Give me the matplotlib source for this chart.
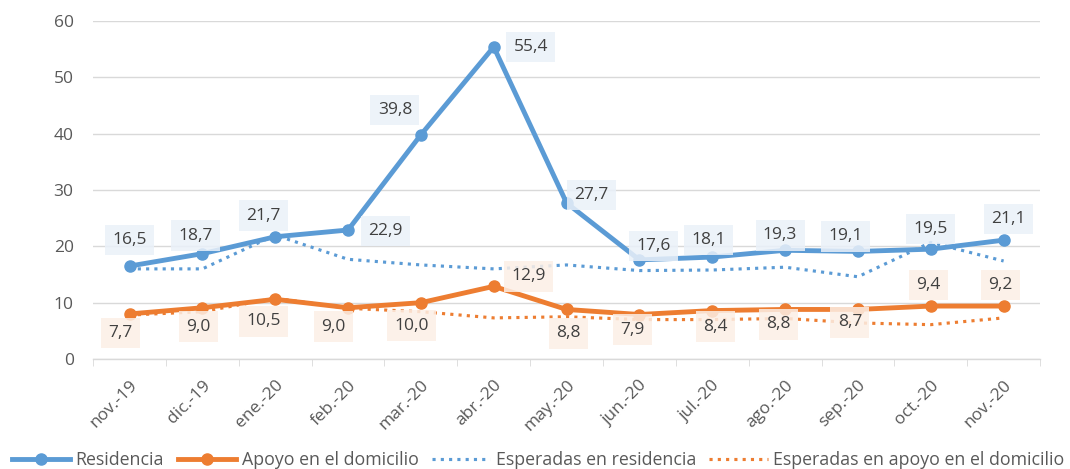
import numpy as np
import matplotlib
matplotlib.use("Agg")
import matplotlib.pyplot as plt

plt.rcParams['font.family'] = ['Open Sans', 'DejaVu Sans']

meses = ['nov.-19', 'dic.-19', 'ene.-20', 'feb.-20', 'mar.-20', 'abr.-20', 'may.-20',
         'jun.-20', 'jul.-20', 'ago.-20', 'sep.-20', 'oct.-20', 'nov.-20']

residencia = [16.5, 18.7, 21.7, 22.9, 39.8, 55.4, 27.7, 17.6, 18.1, 19.3, 19.1, 19.5, 21.1]
apoyo = [8.0, 9.1, 10.6, 9.1, 10.0, 12.9, 8.8, 7.9, 8.6, 8.8, 8.8, 9.4, 9.4]
apoyo_etiq = ['7,7', '9,0', '10,5', '9,0', '10,0', '12,9', '8,8', '7,9', '8,4', '8,8', '8,7', '9,4', '9,2']
esp_residencia = [16.0, 16.0, 22.0, 17.7, 16.7, 16.0, 16.7, 15.7, 15.8, 16.3, 14.6, 20.7, 17.4]
esp_apoyo = [7.8, 8.4, 10.8, 9.0, 8.4, 7.3, 7.5, 7.0, 7.0, 7.2, 6.4, 6.1, 7.3]

# desplazamiento (pixeles) de las etiquetas respecto al punto
off_res = [(0, 26), (-7, 18), (-12, 21), (37, -1), (-26, 25), (37, 0), (25, 8),
           (14, 14), (-4, 17), (-5, 15), (-12, 15), (0, 20), (5, 21)]
off_apo = [(-9, -19), (-4, -19), (-12, -22), (-15, -19), (-9, -23), (35, 10), (2, -24),
           (-7, -15), (3, -16), (-7, -15), (-8, -13), (-2, 21), (-3, 21)]

azul = '#5b9bd5'
naranja = '#ed7d31'
gris = '#595959'

fig = plt.figure(figsize=(10.7, 4.69), dpi=100)
ax = fig.add_axes([0.087, 0.2345, 0.885, 0.7207])
x = np.arange(len(meses))

ax.plot(x, esp_residencia, ':', color=azul, lw=2.25, label='Esperadas en residencia', zorder=2)
ax.plot(x, esp_apoyo, ':', color=naranja, lw=2.25, label='Esperadas en apoyo en el domicilio', zorder=2)
ax.plot(x, residencia, '-o', color=azul, lw=3.5, ms=8, label='Residencia', zorder=3)
ax.plot(x, apoyo, '-o', color=naranja, lw=3.5, ms=8, label='Apoyo en el domicilio', zorder=3)

for i in range(len(meses)):
    ax.annotate(f'{residencia[i]:.1f}'.replace('.', ','), (x[i], residencia[i]),
                xytext=off_res[i], textcoords='offset pixels', ha='center', va='center',
                fontsize=12.5, color='#404040', zorder=4,
                bbox=dict(boxstyle='square,pad=0.42', fc='#eaf1f9', ec='none', alpha=0.85))
    ax.annotate(apoyo_etiq[i], (x[i], apoyo[i]),
                xytext=off_apo[i], textcoords='offset pixels', ha='center', va='center',
                fontsize=12.5, color='#404040', zorder=4,
                bbox=dict(boxstyle='square,pad=0.42', fc='#fcefe6', ec='none', alpha=0.85))

ax.set_xlim(-0.5, len(meses) - 0.5)
ax.set_ylim(0, 60)
ax.set_yticks(range(0, 61, 10))
ax.grid(axis='y', color='#d9d9d9', lw=1)
ax.set_axisbelow(True)
for s in ['top', 'right', 'left']:
    ax.spines[s].set_visible(False)
ax.spines['bottom'].set_color('#d9d9d9')
ax.spines['bottom'].set_linewidth(1)

ax.set_xticks(x)
ax.set_xticklabels(meses, rotation=45, ha='right', va='top', rotation_mode='anchor')
ax.set_xticks(np.arange(-0.5, len(meses), 1), minor=True)
ax.tick_params(axis='x', which='major', length=0, pad=13, labelsize=12.5, labelcolor=gris)
ax.tick_params(axis='x', which='minor', length=5, color='#d9d9d9')
ax.tick_params(axis='y', length=0, pad=14, labelsize=12.5, labelcolor=gris)

h, lab = ax.get_legend_handles_labels()
order = [2, 3, 0, 1]
fig.legend([h[i] for i in order], [lab[i] for i in order], loc='center',
           bbox_to_anchor=(0.503, 0.019), ncol=4, frameon=False, fontsize=12.8,
           handlelength=3.3, columnspacing=0.75, handletextpad=0.3, labelcolor=gris,
           borderaxespad=0, borderpad=0)

fig.savefig('out.png', dpi=100)
